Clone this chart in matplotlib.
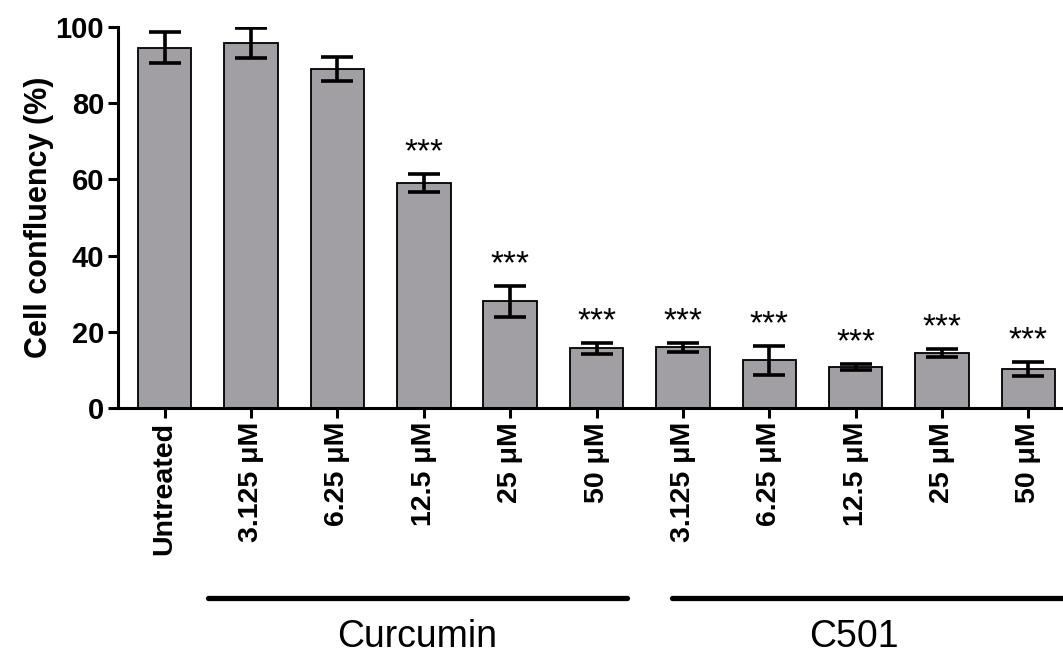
import matplotlib
matplotlib.use("Agg")
import matplotlib.pyplot as plt
import matplotlib.transforms as mtransforms

# data
labels = ["Untreated", "3.125 \u03bcM", "6.25 \u03bcM", "12.5 \u03bcM", "25 \u03bcM", "50 \u03bcM",
          "3.125 \u03bcM", "6.25 \u03bcM", "12.5 \u03bcM", "25 \u03bcM", "50 \u03bcM"]
means = [94.5, 95.7, 88.9, 59.0, 28.0, 15.7, 15.9, 12.6, 10.8, 14.4, 10.3]
errs = [4.1, 3.9, 3.2, 2.3, 4.1, 1.5, 1.1, 3.8, 0.7, 1.0, 1.9]
signif = ["", "", "", "***", "***", "***", "***", "***", "***", "***", "***"]
groups = ["Curcumin", "C501"]
group_spans = [(0.5, 5.35), (5.87, 10.6)]
group_text_x = [2.92, 7.98]

BAR_COLOR = "#a19fa4"
FONT = "Liberation Sans"

plt.rcParams["font.family"] = [FONT, "DejaVu Sans"]

fig = plt.figure(figsize=(10.63, 6.54), dpi=100)
ax = fig.add_axes([0.111, 0.376, 0.889, 0.583])

x = list(range(len(means)))
ax.bar(x, means, width=0.62, color=BAR_COLOR, edgecolor="black", linewidth=1.3, zorder=2)
ax.errorbar(x, means, yerr=errs, fmt="none", ecolor="black", elinewidth=2.6,
            capsize=11.5, capthick=2.6, zorder=3)

for xi, m, e, s in zip(x, means, errs, signif):
    if s:
        ax.text(xi, m + e + 1.5, s, ha="center", va="bottom", fontsize=24)

ax.set_xlim(-0.54, 10.4)
ax.set_ylim(0, 100)
ax.set_yticks([0, 20, 40, 60, 80, 100])
ax.set_xticks(x)
ax.set_xticklabels(labels, rotation=90, fontsize=20.5, fontweight="bold")
for t in ax.get_yticklabels():
    t.set_fontsize(21)
    t.set_fontweight("bold")
ax.set_ylabel("Cell confluency (%)", fontsize=22, fontweight="bold", labelpad=1)

for side in ["top", "right"]:
    ax.spines[side].set_visible(False)
for side in ["left", "bottom"]:
    ax.spines[side].set_linewidth(2.2)
ax.tick_params(axis="both", width=2.2, length=7, pad=3)

# group brackets below the tick labels
trans = mtransforms.blended_transform_factory(ax.transData, ax.transAxes)
for name, (a, b), tx in zip(groups, group_spans, group_text_x):
    ax.plot([a, b], [-0.499, -0.499], color="black", lw=3.8, solid_capstyle="round",
            transform=trans, clip_on=False)
    ax.text(tx, -0.60, name, ha="center", va="center", fontsize=27, transform=trans)

fig.savefig("out.png", dpi=100, facecolor="white")
